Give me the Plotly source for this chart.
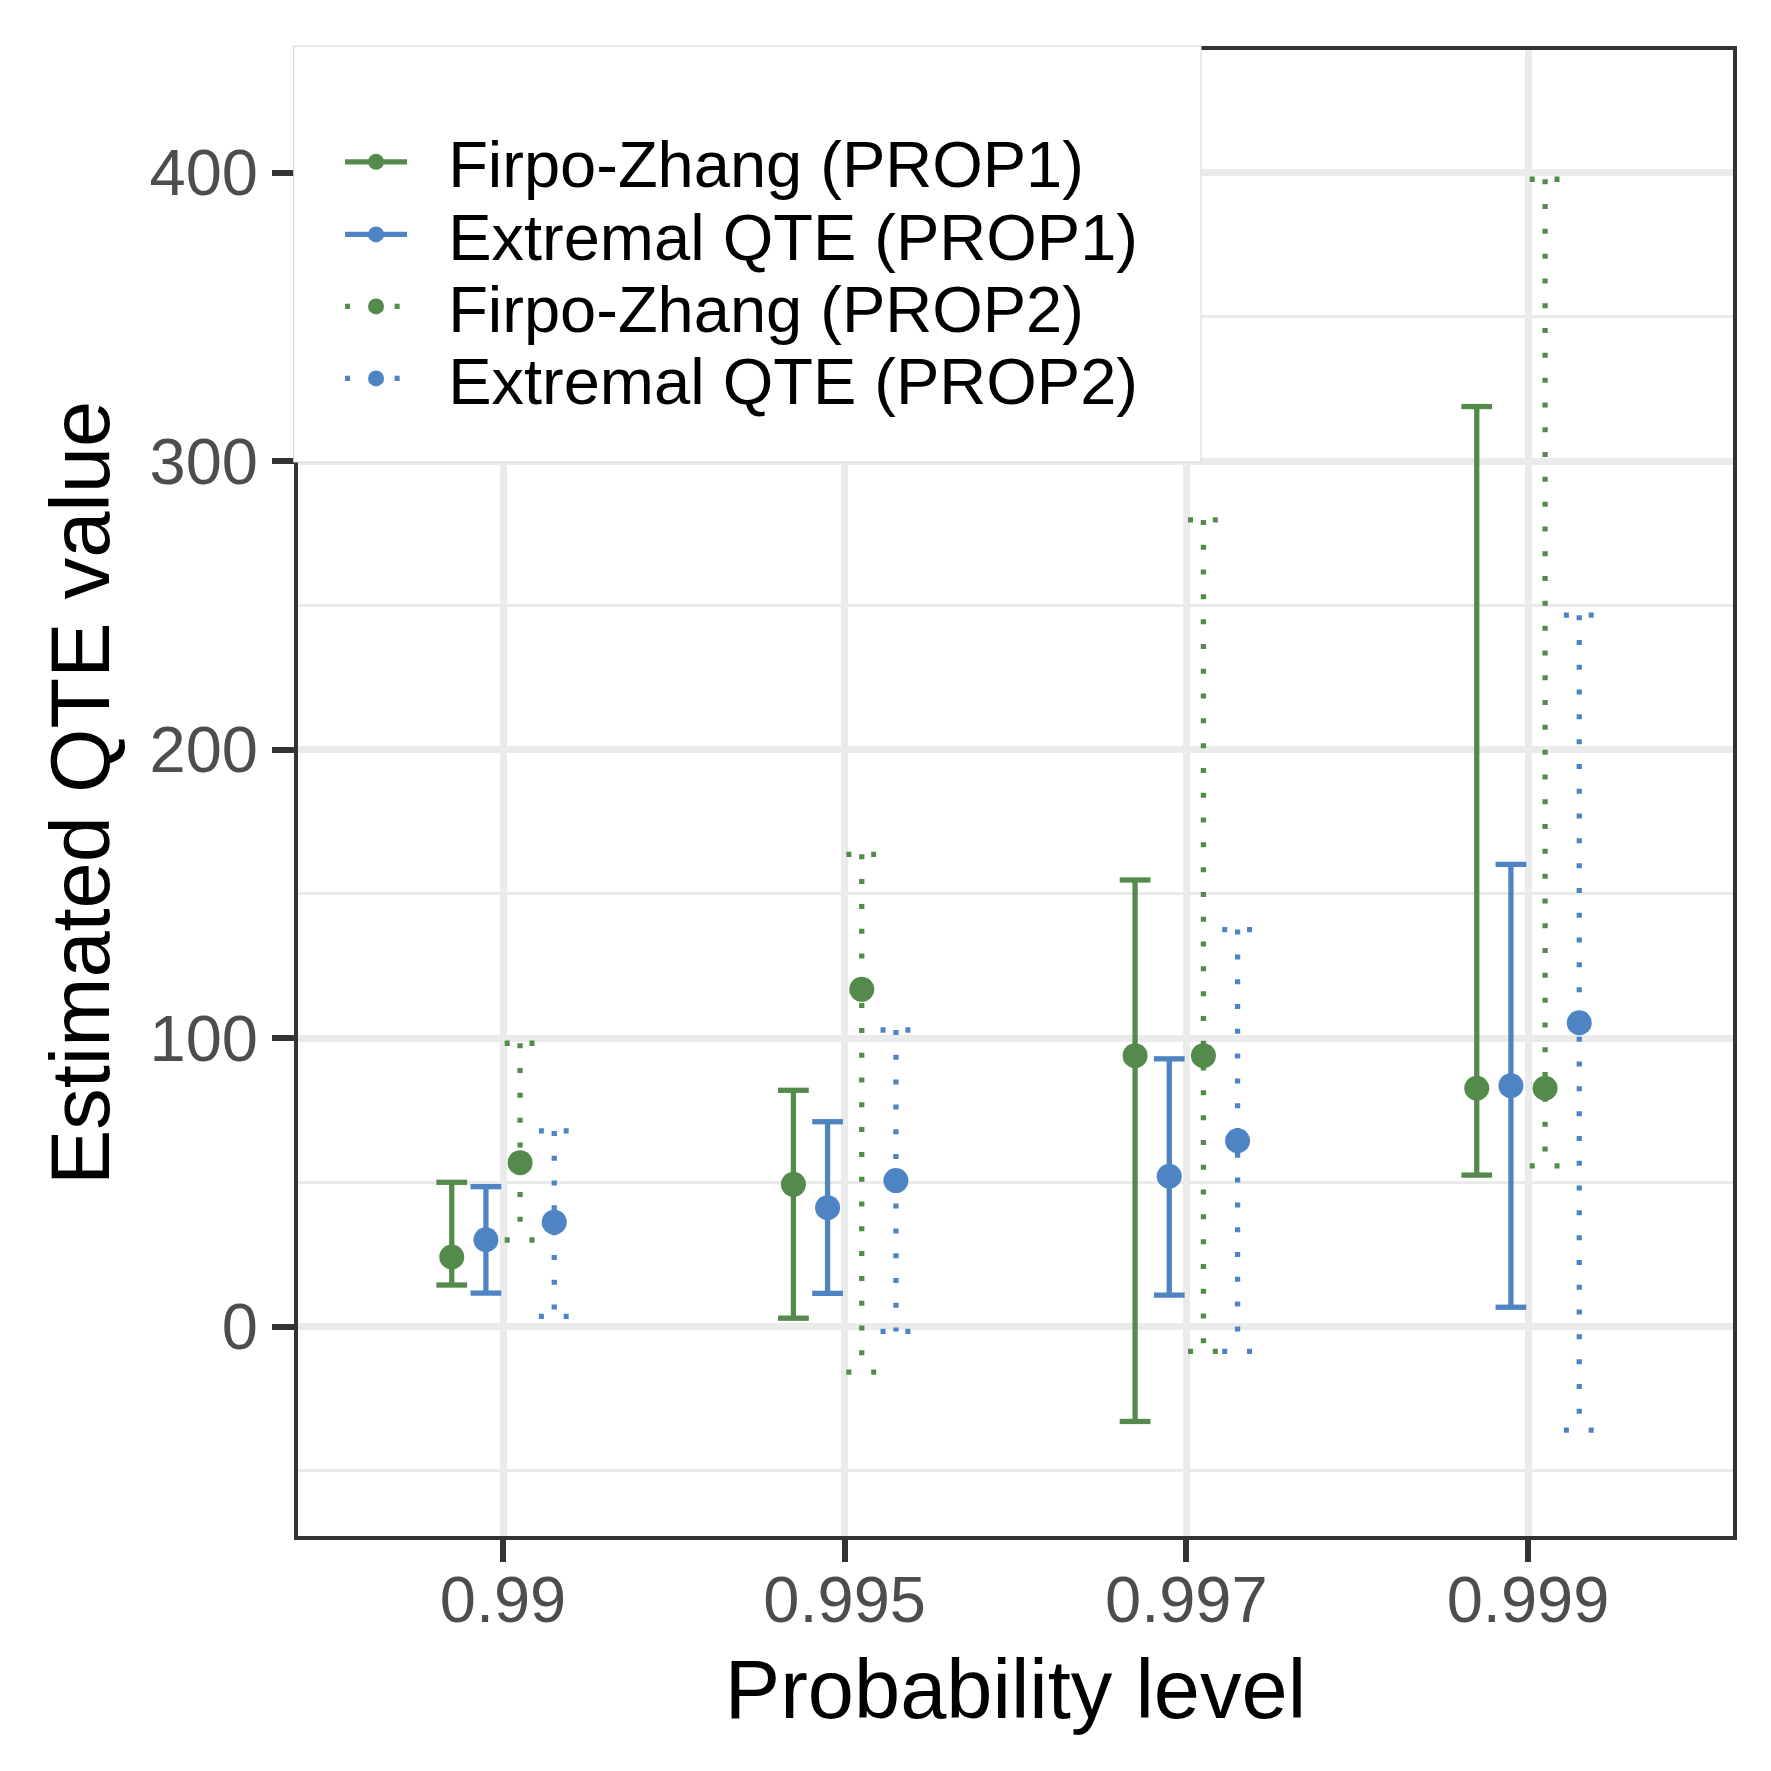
import plotly.graph_objects as go

# probability levels on the x axis
probs = ["0.99", "0.995", "0.997", "0.999"]

# Firpo-Zhang (PROP1)
fz1_est = [24.1, 49.3, 93.9, 82.6]
fz1_lo = [14.4, 2.9, -32.9, 52.5]
fz1_hi = [50.0, 81.9, 154.8, 318.9]
# Extremal QTE (PROP1)
eq1_est = [30.1, 41.2, 52.1, 83.5]
eq1_lo = [11.6, 11.5, 10.9, 6.7]
eq1_hi = [48.5, 71.0, 92.8, 160.2]
# Firpo-Zhang (PROP2)
fz2_est = [56.8, 116.9, 93.9, 82.6]
fz2_lo = [30.0, -15.8, -8.6, 55.7]
fz2_hi = [98.2, 163.7, 279.6, 397.7]
# Extremal QTE (PROP2)
eq2_est = [36.2, 50.6, 64.4, 105.3]
eq2_lo = [3.5, -1.7, -8.6, -35.9]
eq2_hi = [67.8, 102.8, 137.6, 246.6]

GREEN = "#548B4C"
BLUE = "#4F84C4"
DOT = "5px,19.8px"

series = [
    ("Firpo-Zhang (PROP1)", fz1_est, fz1_lo, fz1_hi, GREEN, "solid", -0.15),
    ("Extremal QTE (PROP1)", eq1_est, eq1_lo, eq1_hi, BLUE, "solid", -0.05),
    ("Firpo-Zhang (PROP2)", fz2_est, fz2_lo, fz2_hi, GREEN, DOT, 0.05),
    ("Extremal QTE (PROP2)", eq2_est, eq2_lo, eq2_hi, BLUE, DOT, 0.15),
]

cap = 0.045
pos = list(range(1, len(probs) + 1))

fig = go.Figure()

# error bars: top cap, vertical, bottom cap (like geom_errorbar)
for name, est, lo, hi, col, dash, off in series:
    xs, ys = [], []
    for p, l, h in zip(pos, lo, hi):
        x = p + off
        xs += [x - cap, x + cap, None, x, x, None, x - cap, x + cap, None]
        ys += [h, h, None, h, l, None, l, l, None]
    fig.add_trace(go.Scatter(
        x=xs, y=ys, mode="lines", showlegend=False, hoverinfo="skip",
        line=dict(color=col, width=5.3, dash=dash),
    ))

# points (None between them so legend shows line + marker)
# one legend per entry so the row spacing can follow the original
legend_ids = ["legend", "legend2", "legend3", "legend4"]
for (name, est, lo, hi, col, dash, off), lg in zip(series, legend_ids):
    xs, ys = [], []
    for p, e in zip(pos, est):
        xs += [p + off, None]
        ys += [e, None]
    fig.add_trace(go.Scatter(
        x=xs, y=ys, mode="lines+markers", name="\u00a0\u00a0" + name,
        legend=lg,
        line=dict(color=col, width=5.3, dash=dash),
        marker=dict(color=col, size=25),
    ))

FONT = "Liberation Sans, Arial, Helvetica, sans-serif"

# white legend box sitting over the top-left panel corner
fig.add_shape(
    type="rect", xref="paper", yref="paper",
    x0=-0.003, x1=0.6293, y0=0.7227, y1=1.0027,
    fillcolor="white", line=dict(color="#D6D6D6", width=1), layer="above",
)

row_y = [0.9246, 0.8757, 0.8273, 0.7788]
legend_style = dict(
    x=0.0293, xanchor="left", yanchor="middle",
    bgcolor="rgba(0,0,0,0)", borderwidth=0,
    font=dict(size=65, color="black", family=FONT),
    itemwidth=62,
)
legends = {lg: dict(legend_style, y=y) for lg, y in zip(legend_ids, row_y)}

fig.update_layout(
    width=1771, height=1771,
    margin=dict(l=290, r=46, t=42, b=243),
    paper_bgcolor="white", plot_bgcolor="white",
    font=dict(family=FONT, color="black"),
    xaxis=dict(
        range=[0.4, 4.6], tickvals=pos, ticktext=probs,
        showgrid=True, gridcolor="#EBEBEB", gridwidth=6.5,
        zeroline=False,
        showline=True, linecolor="#333333", linewidth=4, mirror=True,
        ticks="outside", ticklen=22, tickwidth=5.5, tickcolor="#333333",
        ticklabelstandoff=-18,
        tickfont=dict(size=65, color="#4D4D4D", family=FONT),
        title=dict(text="Probability level", font=dict(size=83, color="black", family=FONT), standoff=26),
    ),
    yaxis=dict(
        range=[-72.6, 442.5], tickvals=[0, 100, 200, 300, 400],
        showgrid=True, gridcolor="#EBEBEB", gridwidth=6.5,
        minor=dict(tickvals=[-50, 50, 150, 250, 350], showgrid=True,
                   gridcolor="#EBEBEB", gridwidth=3.3, ticks=""),
        zeroline=False,
        showline=True, linecolor="#333333", linewidth=4, mirror=True,
        ticks="outside", ticklen=22, tickwidth=5.5, tickcolor="#333333",
        ticklabelstandoff=1,
        tickfont=dict(size=65, color="#4D4D4D", family=FONT),
        title=dict(text="Estimated QTE value", font=dict(size=83, color="black", family=FONT), standoff=13),
    ),
    **legends,
)

fig.write_html("out.html")
